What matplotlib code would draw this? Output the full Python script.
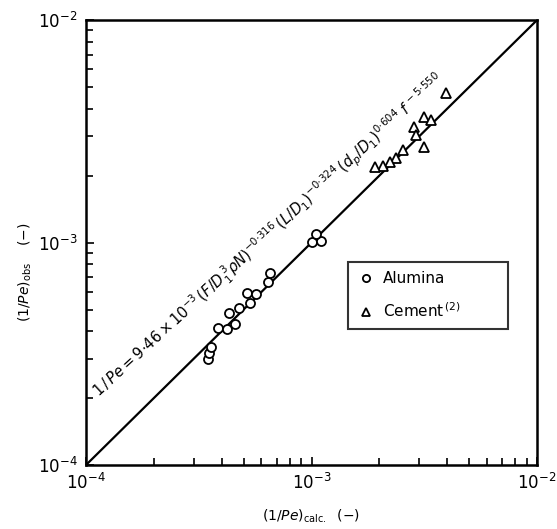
import numpy as np
import matplotlib.pyplot as plt
from matplotlib.ticker import LogLocator, NullFormatter

# ---------------------------------------------------------------------------
# Data
# ---------------------------------------------------------------------------
alumina_calc = [3.48e-4, 3.51e-4, 3.58e-4, 3.85e-4, 4.22e-4, 4.58e-4, 4.30e-4, 4.77e-4,
                5.33e-4, 5.17e-4, 5.67e-4, 6.41e-4, 6.55e-4, 1.005e-3, 1.10e-3, 1.047e-3]
alumina_obs = [2.99e-4, 3.18e-4, 3.39e-4, 4.13e-4, 4.09e-4, 4.30e-4, 4.82e-4, 5.08e-4,
               5.35e-4, 5.93e-4, 5.87e-4, 6.64e-4, 7.29e-4, 1.005e-3, 1.016e-3, 1.09e-3]

cement_calc = [3.94e-3, 3.15e-3, 3.39e-3, 2.85e-3, 2.91e-3, 3.15e-3, 2.55e-3, 2.37e-3,
               2.23e-3, 2.07e-3, 1.91e-3]
cement_obs = [4.70e-3, 3.66e-3, 3.56e-3, 3.31e-3, 3.04e-3, 2.69e-3, 2.61e-3, 2.40e-3,
              2.30e-3, 2.21e-3, 2.18e-3]

axis_lim = [1e-4, 1e-2]

equation = (r"$1\,/\,Pe = 9{\cdot}46\times10^{-3}\,(F/D_1^{\,3}\rho N)^{-0{\cdot}316}\,"
            r"(L/D_1)^{-0{\cdot}324}\,(d_p/D_1)^{0{\cdot}604}\ f^{\,-5{\cdot}550}$")

# ---------------------------------------------------------------------------
# Plot
# ---------------------------------------------------------------------------
plt.rcParams['font.family'] = ['DejaVu Sans']
plt.rcParams['mathtext.fontset'] = 'dejavusans'

fig = plt.figure(figsize=(5.57, 5.29), dpi=100)
ax = fig.add_axes([0.1544, 0.121, 0.8097, 0.841])

ax.plot(axis_lim, axis_lim, color='black', lw=1.6, zorder=1)
alu, = ax.plot(alumina_calc, alumina_obs, 'o', ms=6.5, mfc='white', mec='black',
               mew=1.3, ls='none', zorder=3)
cem, = ax.plot(cement_calc, cement_obs, '^', ms=7, mfc='white', mec='black',
               mew=1.3, ls='none', zorder=3)

ax.set_xscale('log')
ax.set_yscale('log')
ax.set_xlim(axis_lim)
ax.set_ylim(axis_lim)

for sp in ax.spines.values():
    sp.set_linewidth(1.8)

ax.xaxis.set_minor_locator(LogLocator(base=10, subs=np.arange(2, 10)))
ax.yaxis.set_minor_locator(LogLocator(base=10, subs=np.arange(2, 10)))
ax.xaxis.set_minor_formatter(NullFormatter())
ax.yaxis.set_minor_formatter(NullFormatter())
ax.tick_params(which='both', direction='in', top=False, right=False, width=1.2)
ax.tick_params(which='major', length=6, labelsize=12, pad=6)
ax.tick_params(which='minor', length=5)

ax.set_xlabel(r"$(1/Pe)_{\rm calc.}$  $(-)$", fontsize=10, labelpad=10)
fig.text(0.045, 0.486, r"$(1/Pe)_{\rm obs}$    $(-)$", rotation=90, fontsize=10,
         ha='center', va='center')

# equation written along the line
ax.text(0.04, 0.14, equation, transform=ax.transAxes, rotation=42.5,
        rotation_mode='anchor', ha='left', va='bottom', fontsize=10.5)

leg = ax.legend([alu, cem], ['Alumina', 'Cement$^{\\,(2)}$'],
                loc='upper left', bbox_to_anchor=(0.581, 0.306, 0.355, 0.15),
                mode='expand', borderaxespad=0.0, frameon=True, fancybox=False,
                edgecolor='black', fontsize=11, handletextpad=0.5, borderpad=0.6,
                labelspacing=1.0, handlelength=1.2, numpoints=1, markerscale=0.8)
leg.get_frame().set_linewidth(1.5)

fig.savefig('out.png', dpi=100)
